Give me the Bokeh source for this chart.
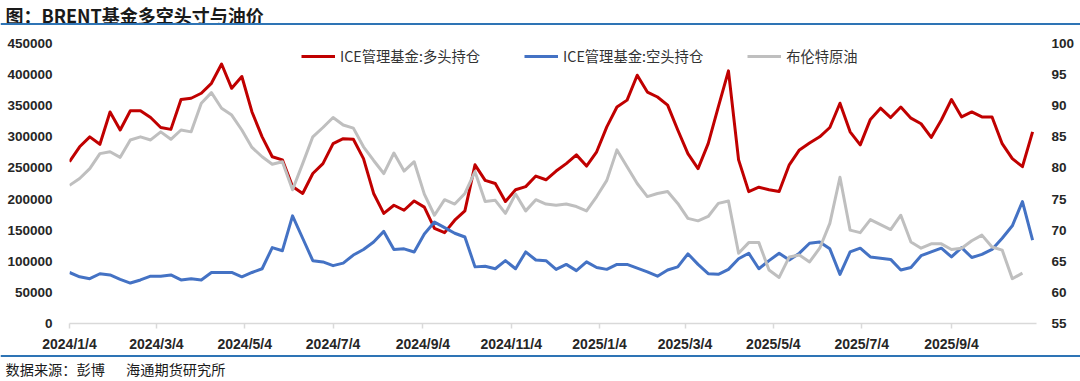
import pandas as pd
from bokeh.plotting import figure
from bokeh.layouts import column
from bokeh.models import (Range1d, LinearAxis, FixedTicker, BasicTickFormatter,
                          Legend, LegendItem)
from bokeh.core.properties import value
from bokeh.embed import file_html
from bokeh.resources import INLINE

# ---------------- data ----------------
start_date = "2024-01-04"   # weekly observations

long_pos = [260000, 284000, 300000, 288000, 340000, 311000, 342000, 342000, 331000, 315000,
            312000, 360000, 362000, 370000, 386000, 417000, 378000, 397000, 340000, 300000,
            268000, 263000, 220000, 209000, 241000, 257000, 289000, 297000, 296000, 265000,
            209000, 177000, 190000, 182000, 197000, 187000, 153000, 146000, 166000, 181000,
            255000, 230000, 225000, 196000, 215000, 220000, 237000, 231000, 245000, 257000,
            271000, 253000, 276000, 316000, 348000, 359000, 399000, 372000, 364000, 351000,
            311000, 273000, 249000, 289000, 348000, 406000, 263000, 212000, 219000, 215000,
            212000, 255000, 279000, 290000, 300000, 315000, 354000, 308000, 287000, 328000,
            346000, 331000, 348000, 330000, 321000, 299000, 327000, 360000, 332000, 340000,
            332000, 332000, 289000, 265000, 252000, 308000]

short_pos = [82000, 75000, 72000, 80000, 78000, 71000, 65000, 70000, 76000, 76000,
             78000, 70000, 72000, 70000, 82000, 82000, 82000, 75000, 82000, 88000,
             122000, 117000, 173000, 137000, 101000, 99000, 93000, 97000, 110000, 119000,
             131000, 148000, 119000, 120000, 115000, 144000, 163000, 154000, 145000, 139000,
             91000, 92000, 88000, 101000, 88000, 115000, 102000, 101000, 87000, 95000,
             85000, 99000, 90000, 87000, 95000, 95000, 89000, 83000, 76000, 86000,
             91000, 112000, 95000, 80000, 79000, 87000, 104000, 113000, 88000, 101000,
             113000, 102000, 113000, 129000, 131000, 120000, 79000, 115000, 121000, 107000,
             105000, 103000, 86000, 90000, 109000, 115000, 121000, 107000, 122000, 106000,
             111000, 119000, 137000, 157000, 196000, 134000]

brent = [77.2, 78.3, 79.9, 82.3, 82.6, 81.7, 84.5, 85.0, 84.5, 85.8,
         84.6, 86.1, 85.8, 90.4, 92.1, 89.6, 88.5, 86.1, 83.3, 81.8,
         80.6, 81.0, 76.5, 80.7, 85.0, 86.5, 88.1, 86.9, 86.4, 83.4,
         81.2, 79.1, 82.4, 79.5, 81.0, 75.8, 72.4, 74.9, 74.2, 75.9,
         79.4, 74.6, 74.8, 72.7, 75.8, 73.1, 74.9, 74.2, 74.0, 74.2,
         73.8, 73.1, 75.4, 78.0, 82.9, 80.2, 77.5, 75.4, 75.9, 76.2,
         74.3, 71.9, 71.5, 72.2, 74.3, 74.7, 66.3, 68.0, 68.0, 63.6,
         62.4, 65.7, 66.0, 64.9, 67.1, 71.1, 78.5, 70.0, 69.6, 71.7,
         70.9, 70.1, 72.4, 68.1, 67.1, 67.8, 67.8, 66.9, 67.1, 68.3,
         69.2, 67.3, 66.8, 62.2, 63.1]

x_tick_labels = ["2024/1/4", "2024/3/4", "2024/5/4", "2024/7/4", "2024/9/4", "2024/11/4",
                 "2025/1/4", "2025/3/4", "2025/5/4", "2025/7/4", "2025/9/4"]
left_ticks = [0, 50000, 100000, 150000, 200000, 250000, 300000, 350000, 400000, 450000]
right_ticks = [55, 60, 65, 70, 75, 80, 85, 90, 95, 100]

series_names = ["ICE管理基金:多头持仓", "ICE管理基金:空头持仓", "布伦特原油"]
title_text = "图：BRENT基金多空头寸与油价"
source_text = "数据来源：彭博\u3000\u2002海通期货研究所"

# ---------------- styling ----------------
W = 1080
TOP_H, MAIN_H, BOT_H = 28, 326, 24
TICK_FONT = "Liberation Sans"
CJK_FONT = "Noto Sans CJK SC"
TXT = "#262626"
RULE = "#2E74B5"


def blank_strip(h):
    f = figure(width=W, height=h, output_backend="svg", toolbar_location=None,
               x_range=Range1d(0, W), y_range=Range1d(h, 0),
               x_axis_location=None, y_axis_location=None,
               min_border=0, min_border_left=0, min_border_right=0,
               min_border_top=0, min_border_bottom=0)
    f.frame_align = False
    f.outline_line_color = None
    f.xgrid.visible = False
    f.ygrid.visible = False
    f.background_fill_color = "white"
    f.border_fill_color = "white"
    return f


# ---- title strip ----
top = blank_strip(TOP_H)
top.text(x=[5], y=[1.5], text=[title_text], text_baseline="top", text_align="left",
         text_font=value(CJK_FONT), text_font_style="bold", text_font_size="18px",
         text_color="#1A1A1A")
top.segment(x0=[0], y0=[23.5], x1=[W], y1=[23.5], line_color=RULE, line_width=2)

# ---- main chart ----
dates = pd.date_range(start_date, periods=len(long_pos), freq="7D")
brent_dates = dates[:len(brent)]

p = figure(width=W, height=MAIN_H, output_backend="svg", toolbar_location=None,
           x_axis_type="datetime",
           x_range=Range1d(dates[0], dates[-1] + pd.Timedelta(days=2.7)),
           y_range=Range1d(left_ticks[0], left_ticks[-1]),
           min_border_left=69, min_border_right=44, min_border_top=15, min_border_bottom=31)
p.frame_align = False
p.outline_line_color = None
p.background_fill_color = "white"
p.border_fill_color = "white"
p.xgrid.visible = False
p.ygrid.visible = False

tick_ms = [float(pd.to_datetime(t, format="%Y/%m/%d").value // 10**6) for t in x_tick_labels]
xa = p.xaxis[0]
xa.ticker = FixedTicker(ticks=tick_ms)
xa.major_label_overrides = {k: v for k, v in zip(tick_ms, x_tick_labels)}
xa.axis_line_color = "#D9D9D9"
xa.axis_line_width = 1.5
xa.major_tick_line_color = "#D9D9D9"
xa.major_tick_line_width = 1.5
xa.major_tick_out = 5
xa.major_tick_in = 0
xa.minor_tick_line_color = None
xa.major_label_standoff = 7
xa.major_label_text_font = TICK_FONT
xa.major_label_text_font_style = "bold"
xa.major_label_text_font_size = "14px"
xa.major_label_text_color = TXT

ya = p.yaxis[0]
ya.ticker = FixedTicker(ticks=left_ticks)
ya.formatter = BasicTickFormatter(use_scientific=False)
ya.axis_line_color = None
ya.major_tick_line_color = None
ya.minor_tick_line_color = None
ya.major_label_standoff = 11
ya.major_label_text_font = TICK_FONT
ya.major_label_text_font_style = "bold"
ya.major_label_text_font_size = "13.5px"
ya.major_label_text_color = TXT

p.extra_y_ranges = {"price": Range1d(right_ticks[0], right_ticks[-1])}
ra = LinearAxis(y_range_name="price", ticker=FixedTicker(ticks=right_ticks),
                axis_line_color=None, major_tick_line_color=None, minor_tick_line_color=None,
                major_label_standoff=9, major_label_text_font=TICK_FONT,
                major_label_text_font_style="bold", major_label_text_font_size="13.5px",
                major_label_text_color=TXT)
p.add_layout(ra, "right")

r_long = p.line(dates, long_pos, line_color="#C00000", line_width=3, line_join="round")
r_short = p.line(dates, short_pos, line_color="#4472C4", line_width=3, line_join="round")
r_brent = p.line(brent_dates, brent, line_color="#BFBFBF", line_width=3, line_join="round",
                 y_range_name="price")

legend = Legend(items=[LegendItem(label=series_names[0], renderers=[r_long]),
                       LegendItem(label=series_names[1], renderers=[r_short]),
                       LegendItem(label=series_names[2], renderers=[r_brent])],
                orientation="horizontal", location=(232, 257),
                border_line_color=None, background_fill_alpha=0,
                glyph_width=34, glyph_height=16, label_height=16,
                label_standoff=5, spacing=44, padding=0, margin=0,
                label_text_font=CJK_FONT, label_text_font_size="14.3px",
                label_text_color="#333333")
p.add_layout(legend)

# ---- source strip ----
bot = blank_strip(BOT_H)
bot.segment(x0=[0], y0=[1.5], x1=[W], y1=[1.5], line_color=RULE, line_width=2)
bot.text(x=[5], y=[14], text=[source_text], text_baseline="middle", text_align="left",
         text_font=value(CJK_FONT), text_font_size="14.2px", text_color="#1A1A1A")

layout = column(top, p, bot, spacing=0)
open("out.html", "w").write(file_html(layout, INLINE))
